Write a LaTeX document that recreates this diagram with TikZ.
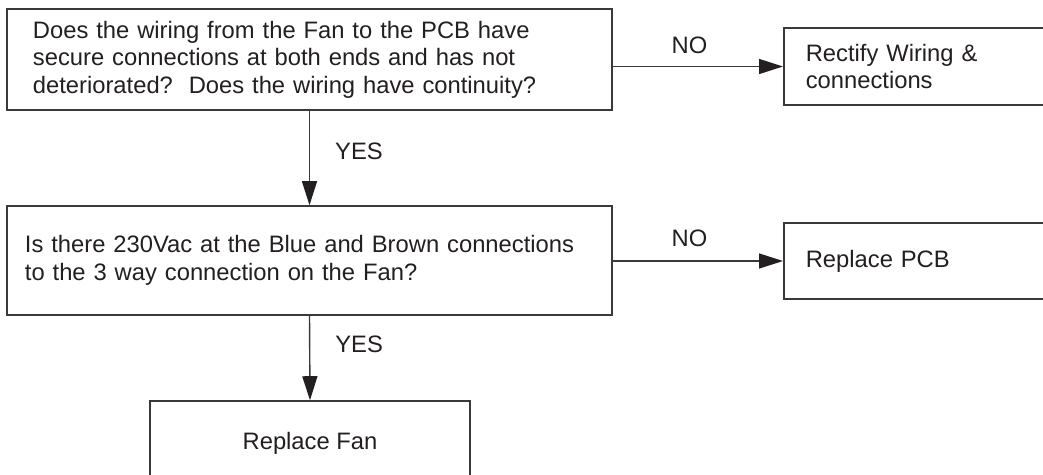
\documentclass[tikz,border=0pt]{standalone}
\usepackage{fontspec}
\setmainfont{Liberation Sans}
\usetikzlibrary{arrows.meta,positioning}
\definecolor{ink}{HTML}{231F20}
\definecolor{edge}{HTML}{3A3A3A}
\tikzset{box/.style={draw=edge,line width=1.1pt,align=left,inner sep=0pt,text=ink},
  arr/.style={-{Triangle[length=6mm,width=3.75mm,color=ink]},draw=edge,line width=1pt},
  lbl/.style={inner sep=0pt,text=ink}}

\begin{document}
\begin{tikzpicture}[x=0.025cm,y=-0.025cm,font=\fontsize{16.9pt}{19.6pt}\selectfont]
\useasboundingbox (0,0) rectangle (1043,474);
\clip (0,0) rectangle (1043,474);
\node[box,minimum width=15.125cm,minimum height=2.525cm,text width=13.825cm] (wiring) at (309.5,59.5)
  {Does the wiring from the Fan to the PCB have\\secure connections at both ends and has not\\deteriorated?\ \ Does the wiring have continuity?};
\node[box,minimum width=15.125cm,minimum height=2.725cm,text width=14.225cm] (volts) at (309.5,260.5)
  {Is there 230Vac at the Blue and Brown connections\\to the 3 way connection on the Fan?};
\node[box,anchor=west,minimum width=8cm,minimum height=1.925cm,text width=6.9cm] (fix) at (783,66.5)
  {Rectify Wiring \&\\connections};
\node[box,anchor=west,minimum width=8cm,minimum height=1.9cm,text width=6.9cm] (pcb) at (783,261) {Replace PCB};
\node[box,align=center,minimum width=8cm,minimum height=2.125cm] (fan) at (310,443.5) {Replace Fan};
\draw[arr] (wiring.east |- fix.west) -- (fix.west) node[lbl,pos=0.45,above=0.3cm]{NO};
\draw[arr] (wiring.south) -- (volts.north) node[lbl,pos=0.43,right=0.625cm]{YES};
\draw[arr] (volts.east |- pcb.west) -- (pcb.west) node[lbl,pos=0.45,above=0.35cm]{NO};
\draw[arr] (volts.south) -- (fan.north) node[lbl,pos=0.34,right=0.625cm]{YES};
\end{tikzpicture}
\end{document}
